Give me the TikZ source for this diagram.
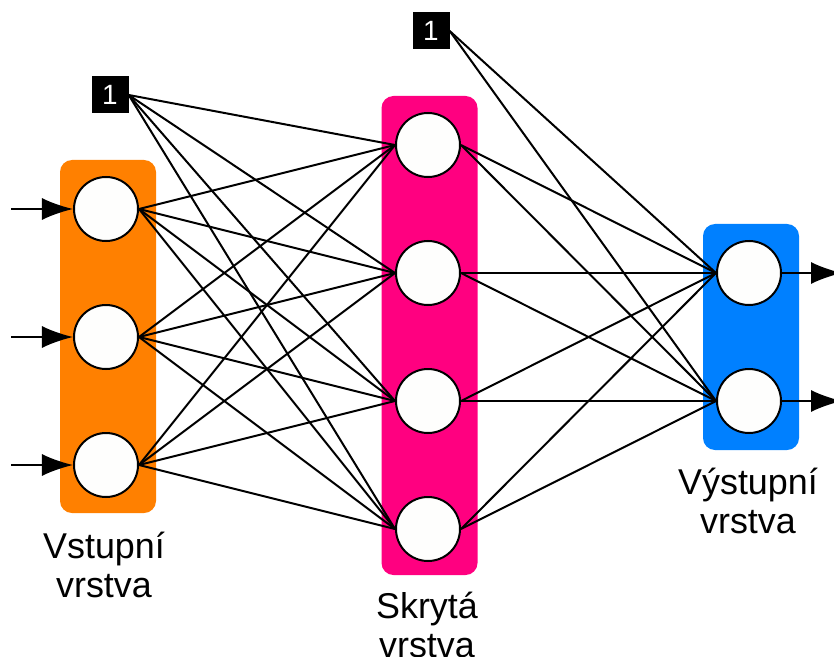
\documentclass[tikz,border=0pt]{standalone}
\usepackage{fontspec}
\setmainfont{Liberation Sans}
\usetikzlibrary{arrows.meta}
\definecolor{inorange}{RGB}{255,128,0}
\definecolor{hidpink}{RGB}{255,0,128}
\definecolor{outblue}{RGB}{0,128,255}
\definecolor{cellwhite}{RGB}{254,254,253}
\begin{document}
\begin{tikzpicture}[
    x=1bp, y=-1bp,
    layer/.style={rectangle, rounded corners=12bp, minimum width=96bp},
    neuron/.style={circle, draw, line width=2bp, fill=cellwhite, minimum size=64bp, inner sep=0pt},
    bias/.style={rectangle, fill=black, text=white, minimum size=37bp, inner sep=0pt, font=\fontsize{28}{28}\selectfont},
    link/.style={line width=2bp},
    arrow/.style={-{Latex[length=31bp, width=22bp]}, line width=2bp},
    label/.style={align=center, font=\fontsize{36}{40}\selectfont}
]
    \useasboundingbox (0,0) rectangle (834,657);

    % Layers
    \node[layer, fill=inorange, minimum height=353bp] (inbox) at (108,336.5) {};
    \node[layer, fill=hidpink, minimum height=479bp] (hidbox) at (429.5,335.5) {};
    \node[layer, fill=outblue, minimum height=226bp] (outbox) at (751,337) {};

    % Neurons
    \foreach \i/\y in {1/209, 2/337, 3/465}
        \node[neuron] (in\i) at (106,\y) {};
    \foreach \i/\y in {1/145, 2/273, 3/401, 4/529}
        \node[neuron] (hid\i) at (428,\y) {};
    \foreach \i/\y in {1/273, 2/401}
        \node[neuron] (out\i) at (749,\y) {};

    % Bias units
    \node[bias] (bin) at (110,95) {1};
    \node[bias] (bhid) at (431,31) {1};

    % Weights
    \foreach \i in {1,2,3}
        \foreach \j in {1,...,4}
            \draw[link] (in\i.east) -- (hid\j.west);
    \foreach \j in {1,...,4}
        \draw[link] (bin.east) -- (hid\j.west);
    \foreach \i in {1,...,4}
        \foreach \j in {1,2}
            \draw[link] (hid\i.east) -- (out\j.west);
    \foreach \j in {1,2}
        \draw[link] (bhid.east) -- (out\j.west);

    % Inputs and outputs
    \foreach \i/\y in {1/209, 2/337, 3/465} {
        \coordinate (src\i) at (11,\y);
        \draw[arrow] (src\i) -- (in\i);
    }
    \foreach \i/\y in {1/273, 2/401} {
        \coordinate (dst\i) at (842,\y);
        \draw[arrow] (out\i) -- (dst\i);
    }

    % Labels
    \node[label] (inlabel) at (104,565) {Vstupní\\vrstva};
    \node[label] (hidlabel) at (427,625) {Skrytá\\vrstva};
    \node[label] (outlabel) at (748,501) {Výstupní\\vrstva};
\end{tikzpicture}
\end{document}
